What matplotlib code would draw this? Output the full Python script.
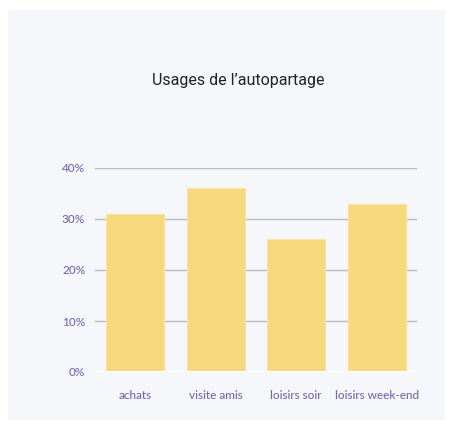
import matplotlib.pyplot as plt
from matplotlib.patches import Rectangle

categories = ['achats', 'visite amis', 'loisirs soir', 'loisirs week-end']
values = [31, 36, 26, 33]
yticks = [0, 10, 20, 30, 40]

fig = plt.figure(figsize=(4.55, 4.34), dpi=100)
fig.patch.set_facecolor('white')

# panel background, behind everything
bg = fig.add_axes([0, 0, 1, 1], zorder=-10)
bg.set_axis_off()
bg.add_patch(Rectangle((8 / 455, 14 / 434), 437 / 455, 410 / 434,
                       transform=bg.transAxes, facecolor='#f5f7fb', edgecolor='none'))

ax = fig.add_axes([95 / 455, 62 / 434, 322 / 455, 204 / 434])
ax.set_facecolor('none')

ax.bar(range(len(categories)), values, width=0.72, color='#f6d97d',
       edgecolor='#f8e3a0', linewidth=0.8, zorder=3)

ax.set_xlim(-0.5, len(categories) - 0.5)
ax.set_ylim(0, 40)
ax.set_yticks(yticks)
ax.set_yticklabels([f'{t}%' for t in yticks])
ax.set_xticks(range(len(categories)))
ax.set_xticklabels(categories)

for t in yticks[1:]:
    ax.axhline(t, color='#b9b9c2', linewidth=1.0, zorder=1)
ax.axhline(0, color='white', linewidth=1.5, zorder=4)

for s in ax.spines.values():
    s.set_visible(False)
ax.tick_params(length=0, colors='#7468ad')
ax.tick_params(axis='y', pad=7, labelsize=8.5)
ax.tick_params(axis='x', pad=13, labelsize=8.5)
for lab in ax.get_xticklabels() + ax.get_yticklabels():
    lab.set_family(['Lato', 'DejaVu Sans'])
    lab.set_weight('medium')

fig.text(238 / 455, 1 - 80 / 434, "Usages de l\u2019autopartage", ha='center', va='center',
         fontsize=11.5, color='#222222', family=['Roboto', 'DejaVu Sans'])

fig.savefig('out.png', dpi=100)
